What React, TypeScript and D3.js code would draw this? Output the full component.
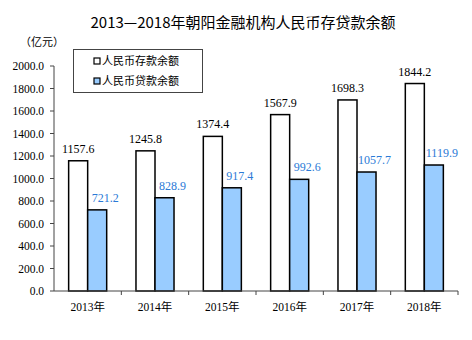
import React from "react";
import * as d3 from "d3";

const categories = ["2013年", "2014年", "2015年", "2016年", "2017年", "2018年"];
const deposits = [1157.6, 1245.8, 1374.4, 1567.9, 1698.3, 1844.2];
const loans = [721.2, 828.9, 917.4, 992.6, 1057.7, 1119.9];
const seriesNames = ["人民币存款余额", "人民币贷款余额"];
const yTicks = [0, 200, 400, 600, 800, 1000, 1200, 1400, 1600, 1800, 2000];
const title = "2013—2018年朝阳金融机构人民币存贷款余额";
const unit = "（亿元）";

const W = 472;
const H = 340;
const left = 54;
const right = 458;
const top = 66;
const bottom = 291;
const serif = "'Times New Roman', 'Liberation Serif', 'Noto Sans CJK SC', serif";
const sans = "'Noto Sans CJK SC', 'Noto Sans', sans-serif";
const blueFill = "#99ccff";
const blueText = "#2a7ad6";

export default function App() {
  const x = d3.scaleBand<string>().domain(categories).range([left, right]).paddingInner(0).paddingOuter(0);
  const inner = d3.scaleBand<string>().domain(["d", "l"]).range([0, x.bandwidth()]).paddingInner(0).paddingOuter(0.77);
  const y = d3.scaleLinear().domain([0, 2000]).range([bottom, top]);
  const bw = inner.bandwidth();

  return (
    <svg width={W} height={H} style={{ position: "absolute", left: 0, top: 0, background: "#fff" }}>
      <text x={243} y={28} textAnchor="middle" fontFamily={sans} fontSize={15} fill="#000">{title}</text>
      <text x={20} y={46} fontFamily={sans} fontSize={11} fill="#000">{unit}</text>

      {/* y axis */}
      <line x1={left} x2={left} y1={top} y2={bottom} stroke="#444" strokeWidth={1} />
      {yTicks.map((t) => (
        <g key={t}>
          <line x1={left - 4} x2={left} y1={y(t)} y2={y(t)} stroke="#444" />
          <text x={44} y={y(t) + 4} textAnchor="end" fontFamily={serif} fontSize={11.5} fill="#000">{t.toFixed(1)}</text>
        </g>
      ))}

      {/* bars */}
      {categories.map((c, i) => {
        const x0 = x(c)!;
        const xd = x0 + inner("d")!;
        const xl = x0 + inner("l")!;
        return (
          <g key={c}>
            <rect x={xd} y={y(deposits[i])} width={bw} height={bottom - y(deposits[i])} fill="#fff" stroke="#000" strokeWidth={1.5} />
            <rect x={xl} y={y(loans[i])} width={bw} height={bottom - y(loans[i])} fill={blueFill} stroke="#000" strokeWidth={1.5} />
            <text x={xd + bw / 2} y={y(deposits[i]) - 8} textAnchor="middle" fontFamily={serif} fontSize={12} fill="#000">{deposits[i].toFixed(1)}</text>
            <text x={xl + bw / 2 + 8} y={y(loans[i]) - 8} textAnchor="middle" fontFamily={serif} fontSize={12} fill={blueText}>{loans[i].toFixed(1)}</text>
            <text x={x0 + x.bandwidth() / 2} y={311} textAnchor="middle" fontFamily={serif} fontSize={11.5} fill="#000">{c}</text>
          </g>
        );
      })}

      {/* x axis */}
      <line x1={left} x2={right} y1={bottom} y2={bottom} stroke="#444" strokeWidth={1} />
      {categories.map((c) => (
        <line key={c} x1={x(c)! + x.bandwidth()} x2={x(c)! + x.bandwidth()} y1={bottom} y2={bottom + 4} stroke="#444" />
      ))}

      {/* legend */}
      <rect x={73.5} y={49.5} width={129} height={43} fill="#fff" stroke="#444" strokeWidth={1} />
      {seriesNames.map((n, i) => (
        <g key={n}>
          <rect x={94} y={58 + i * 20} width={6} height={6} fill={i === 0 ? "#fff" : blueFill} stroke="#000" strokeWidth={1.2} />
          <text x={102} y={65 + i * 20} fontFamily={sans} fontSize={11} fill="#000">{n}</text>
        </g>
      ))}
    </svg>
  );
}
